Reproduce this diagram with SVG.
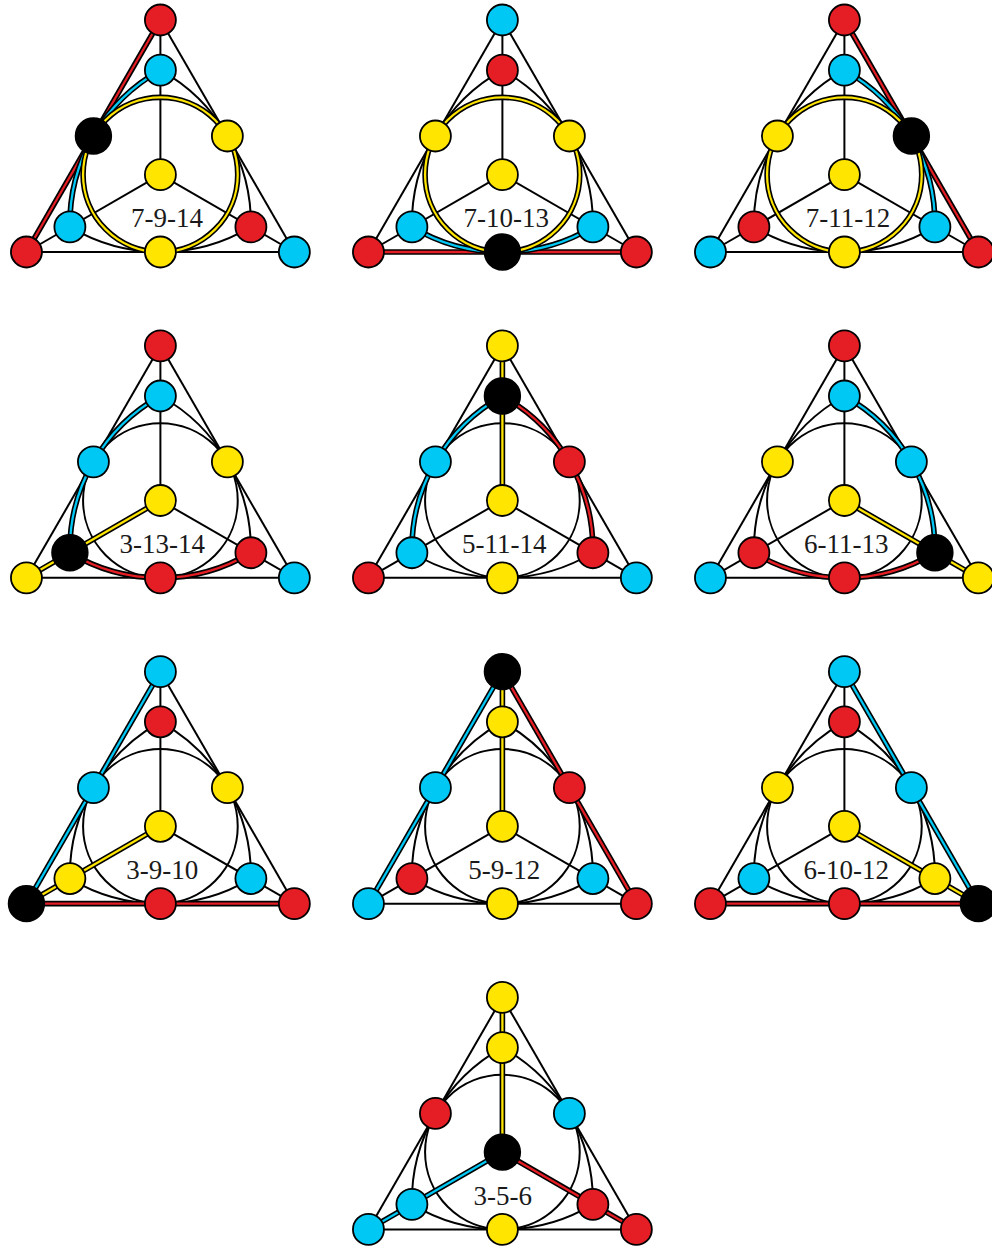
<svg xmlns="http://www.w3.org/2000/svg" xmlns:xlink="http://www.w3.org/1999/xlink" width="992" height="1247" viewBox="0 0 992 1247">
<style>
.ln{fill:none;stroke:#000;stroke-width:2}
.hk{fill:none;stroke:#000;stroke-width:5.6}
.hr{fill:none;stroke:#E41E24;stroke-width:2.3}
.hc{fill:none;stroke:#00C8F5;stroke-width:2.3}
.hy{fill:none;stroke:#FFE500;stroke-width:2.3}
.n{stroke:#000;stroke-width:1.8}
.R{fill:#E41E24}.C{fill:#00C8F5}.Y{fill:#FFE500}.K{fill:#000}
.lbl{font-family:"Liberation Serif","DejaVu Serif",serif;font-size:27px;fill:#1a1a1a;text-anchor:middle}
</style>
<defs>
<path id="eAB" d="M0,-154.67 L-133.95,77.33"/>
<path id="eAC" d="M0,-154.67 L133.95,77.33"/>
<path id="eBC" d="M-133.95,77.33 L133.95,77.33"/>
<path id="mA" d="M0,-154.67 L0,0"/>
<path id="mB" d="M-133.95,77.33 L0,0"/>
<path id="mC" d="M133.95,77.33 L0,0"/>
<circle id="circ" cx="0" cy="0" r="77.33"/>
<path id="cAB" d="M0,-104.5 A175.7,175.7 0 0 0 -90.5,52.25"/>
<path id="cAC" d="M0,-104.5 A175.7,175.7 0 0 1 90.5,52.25"/>
<path id="cBC" d="M-90.5,52.25 A175.7,175.7 0 0 0 90.5,52.25"/>
<g id="base">
<use xlink:href="#eAB"/><use xlink:href="#eAC"/><use xlink:href="#eBC"/>
<use xlink:href="#mA"/><use xlink:href="#mB"/><use xlink:href="#mC"/>
<use xlink:href="#circ"/>
<use xlink:href="#cAB"/><use xlink:href="#cAC"/><use xlink:href="#cBC"/>
</g>
</defs>

<g id="connectors">
<g transform="translate(160.4,174.67)">
<use xlink:href="#base" class="ln"/>
<use xlink:href="#eAB" class="hk"/><use xlink:href="#eAB" class="hr"/>
<use xlink:href="#cAB" class="hk"/><use xlink:href="#cAB" class="hc"/>
<use xlink:href="#circ" class="hk"/><use xlink:href="#circ" class="hy"/>
</g>
<g transform="translate(502.4,174.67)">
<use xlink:href="#base" class="ln"/>
<use xlink:href="#eBC" class="hk"/><use xlink:href="#eBC" class="hr"/>
<use xlink:href="#cBC" class="hk"/><use xlink:href="#cBC" class="hc"/>
<use xlink:href="#circ" class="hk"/><use xlink:href="#circ" class="hy"/>
</g>
<g transform="translate(844.4,174.67)">
<use xlink:href="#base" class="ln"/>
<use xlink:href="#eAC" class="hk"/><use xlink:href="#eAC" class="hr"/>
<use xlink:href="#cAC" class="hk"/><use xlink:href="#cAC" class="hc"/>
<use xlink:href="#circ" class="hk"/><use xlink:href="#circ" class="hy"/>
</g>
<g transform="translate(160.4,500.5)">
<use xlink:href="#base" class="ln"/>
<use xlink:href="#cAB" class="hk"/><use xlink:href="#cAB" class="hc"/>
<use xlink:href="#mB" class="hk"/><use xlink:href="#mB" class="hy"/>
<use xlink:href="#cBC" class="hk"/><use xlink:href="#cBC" class="hr"/>
</g>
<g transform="translate(502.4,500.5)">
<use xlink:href="#base" class="ln"/>
<use xlink:href="#mA" class="hk"/><use xlink:href="#mA" class="hy"/>
<use xlink:href="#cAB" class="hk"/><use xlink:href="#cAB" class="hc"/>
<use xlink:href="#cAC" class="hk"/><use xlink:href="#cAC" class="hr"/>
</g>
<g transform="translate(844.4,500.5)">
<use xlink:href="#base" class="ln"/>
<use xlink:href="#cAC" class="hk"/><use xlink:href="#cAC" class="hc"/>
<use xlink:href="#mC" class="hk"/><use xlink:href="#mC" class="hy"/>
<use xlink:href="#cBC" class="hk"/><use xlink:href="#cBC" class="hr"/>
</g>
<g transform="translate(160.4,826.3)">
<use xlink:href="#base" class="ln"/>
<use xlink:href="#eAB" class="hk"/><use xlink:href="#eAB" class="hc"/>
<use xlink:href="#mB" class="hk"/><use xlink:href="#mB" class="hy"/>
<use xlink:href="#eBC" class="hk"/><use xlink:href="#eBC" class="hr"/>
</g>
<g transform="translate(502.4,826.3)">
<use xlink:href="#base" class="ln"/>
<use xlink:href="#eAB" class="hk"/><use xlink:href="#eAB" class="hc"/>
<use xlink:href="#mA" class="hk"/><use xlink:href="#mA" class="hy"/>
<use xlink:href="#eAC" class="hk"/><use xlink:href="#eAC" class="hr"/>
</g>
<g transform="translate(844.4,826.3)">
<use xlink:href="#base" class="ln"/>
<use xlink:href="#eAC" class="hk"/><use xlink:href="#eAC" class="hc"/>
<use xlink:href="#mC" class="hk"/><use xlink:href="#mC" class="hy"/>
<use xlink:href="#eBC" class="hk"/><use xlink:href="#eBC" class="hr"/>
</g>
<g transform="translate(502.4,1152.1)">
<use xlink:href="#base" class="ln"/>
<use xlink:href="#mA" class="hk"/><use xlink:href="#mA" class="hy"/>
<use xlink:href="#mB" class="hk"/><use xlink:href="#mB" class="hc"/>
<use xlink:href="#mC" class="hk"/><use xlink:href="#mC" class="hr"/>
</g>
</g>

<g id="panel0" transform="translate(160.4,174.67)">
<g id="p0-A"><circle class="n R" cx="0" cy="-154.67" r="15.5"/></g>
<g id="p0-a"><circle class="n C" cx="0" cy="-104.5" r="15.5"/></g>
<g id="p0-Mab"><circle class="n K" cx="-66.98" cy="-38.67" r="17.8"/></g>
<g id="p0-Mac"><circle class="n Y" cx="66.98" cy="-38.67" r="15.5"/></g>
<g id="p0-G"><circle class="n Y" cx="0" cy="0" r="15.5"/></g>
<g id="p0-b"><circle class="n C" cx="-90.5" cy="52.25" r="15.5"/></g>
<g id="p0-c"><circle class="n R" cx="90.5" cy="52.25" r="15.5"/></g>
<g id="p0-B"><circle class="n R" cx="-133.95" cy="77.33" r="15.5"/></g>
<g id="p0-Mbc"><circle class="n Y" cx="0" cy="77.33" r="15.5"/></g>
<g id="p0-C"><circle class="n C" cx="133.95" cy="77.33" r="15.5"/></g>
</g>
<g id="panel1" transform="translate(502.4,174.67)">
<g id="p1-A"><circle class="n C" cx="0" cy="-154.67" r="15.5"/></g>
<g id="p1-a"><circle class="n R" cx="0" cy="-104.5" r="15.5"/></g>
<g id="p1-Mab"><circle class="n Y" cx="-66.98" cy="-38.67" r="15.5"/></g>
<g id="p1-Mac"><circle class="n Y" cx="66.98" cy="-38.67" r="15.5"/></g>
<g id="p1-G"><circle class="n Y" cx="0" cy="0" r="15.5"/></g>
<g id="p1-b"><circle class="n C" cx="-90.5" cy="52.25" r="15.5"/></g>
<g id="p1-c"><circle class="n C" cx="90.5" cy="52.25" r="15.5"/></g>
<g id="p1-B"><circle class="n R" cx="-133.95" cy="77.33" r="15.5"/></g>
<g id="p1-Mbc"><circle class="n K" cx="0" cy="77.33" r="17.8"/></g>
<g id="p1-C"><circle class="n R" cx="133.95" cy="77.33" r="15.5"/></g>
</g>
<g id="panel2" transform="translate(844.4,174.67)">
<g id="p2-A"><circle class="n R" cx="0" cy="-154.67" r="15.5"/></g>
<g id="p2-a"><circle class="n C" cx="0" cy="-104.5" r="15.5"/></g>
<g id="p2-Mab"><circle class="n Y" cx="-66.98" cy="-38.67" r="15.5"/></g>
<g id="p2-Mac"><circle class="n K" cx="66.98" cy="-38.67" r="17.8"/></g>
<g id="p2-G"><circle class="n Y" cx="0" cy="0" r="15.5"/></g>
<g id="p2-b"><circle class="n R" cx="-90.5" cy="52.25" r="15.5"/></g>
<g id="p2-c"><circle class="n C" cx="90.5" cy="52.25" r="15.5"/></g>
<g id="p2-B"><circle class="n C" cx="-133.95" cy="77.33" r="15.5"/></g>
<g id="p2-Mbc"><circle class="n Y" cx="0" cy="77.33" r="15.5"/></g>
<g id="p2-C"><circle class="n R" cx="133.95" cy="77.33" r="15.5"/></g>
</g>
<g id="panel3" transform="translate(160.4,500.5)">
<g id="p3-A"><circle class="n R" cx="0" cy="-154.67" r="15.5"/></g>
<g id="p3-a"><circle class="n C" cx="0" cy="-104.5" r="15.5"/></g>
<g id="p3-Mab"><circle class="n C" cx="-66.98" cy="-38.67" r="15.5"/></g>
<g id="p3-Mac"><circle class="n Y" cx="66.98" cy="-38.67" r="15.5"/></g>
<g id="p3-G"><circle class="n Y" cx="0" cy="0" r="15.5"/></g>
<g id="p3-b"><circle class="n K" cx="-90.5" cy="52.25" r="17.8"/></g>
<g id="p3-c"><circle class="n R" cx="90.5" cy="52.25" r="15.5"/></g>
<g id="p3-B"><circle class="n Y" cx="-133.95" cy="77.33" r="15.5"/></g>
<g id="p3-Mbc"><circle class="n R" cx="0" cy="77.33" r="15.5"/></g>
<g id="p3-C"><circle class="n C" cx="133.95" cy="77.33" r="15.5"/></g>
</g>
<g id="panel4" transform="translate(502.4,500.5)">
<g id="p4-A"><circle class="n Y" cx="0" cy="-154.67" r="15.5"/></g>
<g id="p4-a"><circle class="n K" cx="0" cy="-104.5" r="17.8"/></g>
<g id="p4-Mab"><circle class="n C" cx="-66.98" cy="-38.67" r="15.5"/></g>
<g id="p4-Mac"><circle class="n R" cx="66.98" cy="-38.67" r="15.5"/></g>
<g id="p4-G"><circle class="n Y" cx="0" cy="0" r="15.5"/></g>
<g id="p4-b"><circle class="n C" cx="-90.5" cy="52.25" r="15.5"/></g>
<g id="p4-c"><circle class="n R" cx="90.5" cy="52.25" r="15.5"/></g>
<g id="p4-B"><circle class="n R" cx="-133.95" cy="77.33" r="15.5"/></g>
<g id="p4-Mbc"><circle class="n Y" cx="0" cy="77.33" r="15.5"/></g>
<g id="p4-C"><circle class="n C" cx="133.95" cy="77.33" r="15.5"/></g>
</g>
<g id="panel5" transform="translate(844.4,500.5)">
<g id="p5-A"><circle class="n R" cx="0" cy="-154.67" r="15.5"/></g>
<g id="p5-a"><circle class="n C" cx="0" cy="-104.5" r="15.5"/></g>
<g id="p5-Mab"><circle class="n Y" cx="-66.98" cy="-38.67" r="15.5"/></g>
<g id="p5-Mac"><circle class="n C" cx="66.98" cy="-38.67" r="15.5"/></g>
<g id="p5-G"><circle class="n Y" cx="0" cy="0" r="15.5"/></g>
<g id="p5-b"><circle class="n R" cx="-90.5" cy="52.25" r="15.5"/></g>
<g id="p5-c"><circle class="n K" cx="90.5" cy="52.25" r="17.8"/></g>
<g id="p5-B"><circle class="n C" cx="-133.95" cy="77.33" r="15.5"/></g>
<g id="p5-Mbc"><circle class="n R" cx="0" cy="77.33" r="15.5"/></g>
<g id="p5-C"><circle class="n Y" cx="133.95" cy="77.33" r="15.5"/></g>
</g>
<g id="panel6" transform="translate(160.4,826.3)">
<g id="p6-A"><circle class="n C" cx="0" cy="-154.67" r="15.5"/></g>
<g id="p6-a"><circle class="n R" cx="0" cy="-104.5" r="15.5"/></g>
<g id="p6-Mab"><circle class="n C" cx="-66.98" cy="-38.67" r="15.5"/></g>
<g id="p6-Mac"><circle class="n Y" cx="66.98" cy="-38.67" r="15.5"/></g>
<g id="p6-G"><circle class="n Y" cx="0" cy="0" r="15.5"/></g>
<g id="p6-b"><circle class="n Y" cx="-90.5" cy="52.25" r="15.5"/></g>
<g id="p6-c"><circle class="n C" cx="90.5" cy="52.25" r="15.5"/></g>
<g id="p6-B"><circle class="n K" cx="-133.95" cy="77.33" r="17.8"/></g>
<g id="p6-Mbc"><circle class="n R" cx="0" cy="77.33" r="15.5"/></g>
<g id="p6-C"><circle class="n R" cx="133.95" cy="77.33" r="15.5"/></g>
</g>
<g id="panel7" transform="translate(502.4,826.3)">
<g id="p7-A"><circle class="n K" cx="0" cy="-154.67" r="17.8"/></g>
<g id="p7-a"><circle class="n Y" cx="0" cy="-104.5" r="15.5"/></g>
<g id="p7-Mab"><circle class="n C" cx="-66.98" cy="-38.67" r="15.5"/></g>
<g id="p7-Mac"><circle class="n R" cx="66.98" cy="-38.67" r="15.5"/></g>
<g id="p7-G"><circle class="n Y" cx="0" cy="0" r="15.5"/></g>
<g id="p7-b"><circle class="n R" cx="-90.5" cy="52.25" r="15.5"/></g>
<g id="p7-c"><circle class="n C" cx="90.5" cy="52.25" r="15.5"/></g>
<g id="p7-B"><circle class="n C" cx="-133.95" cy="77.33" r="15.5"/></g>
<g id="p7-Mbc"><circle class="n Y" cx="0" cy="77.33" r="15.5"/></g>
<g id="p7-C"><circle class="n R" cx="133.95" cy="77.33" r="15.5"/></g>
</g>
<g id="panel8" transform="translate(844.4,826.3)">
<g id="p8-A"><circle class="n C" cx="0" cy="-154.67" r="15.5"/></g>
<g id="p8-a"><circle class="n R" cx="0" cy="-104.5" r="15.5"/></g>
<g id="p8-Mab"><circle class="n Y" cx="-66.98" cy="-38.67" r="15.5"/></g>
<g id="p8-Mac"><circle class="n C" cx="66.98" cy="-38.67" r="15.5"/></g>
<g id="p8-G"><circle class="n Y" cx="0" cy="0" r="15.5"/></g>
<g id="p8-b"><circle class="n C" cx="-90.5" cy="52.25" r="15.5"/></g>
<g id="p8-c"><circle class="n Y" cx="90.5" cy="52.25" r="15.5"/></g>
<g id="p8-B"><circle class="n R" cx="-133.95" cy="77.33" r="15.5"/></g>
<g id="p8-Mbc"><circle class="n R" cx="0" cy="77.33" r="15.5"/></g>
<g id="p8-C"><circle class="n K" cx="133.95" cy="77.33" r="17.8"/></g>
</g>
<g id="panel9" transform="translate(502.4,1152.1)">
<g id="p9-A"><circle class="n Y" cx="0" cy="-154.67" r="15.5"/></g>
<g id="p9-a"><circle class="n Y" cx="0" cy="-104.5" r="15.5"/></g>
<g id="p9-Mab"><circle class="n R" cx="-66.98" cy="-38.67" r="15.5"/></g>
<g id="p9-Mac"><circle class="n C" cx="66.98" cy="-38.67" r="15.5"/></g>
<g id="p9-G"><circle class="n K" cx="0" cy="0" r="17.8"/></g>
<g id="p9-b"><circle class="n C" cx="-90.5" cy="52.25" r="15.5"/></g>
<g id="p9-c"><circle class="n R" cx="90.5" cy="52.25" r="15.5"/></g>
<g id="p9-B"><circle class="n C" cx="-133.95" cy="77.33" r="15.5"/></g>
<g id="p9-Mbc"><circle class="n Y" cx="0" cy="77.33" r="15.5"/></g>
<g id="p9-C"><circle class="n R" cx="133.95" cy="77.33" r="15.5"/></g>
</g>

<g id="labels">
<text class="lbl" x="167" y="227.3">7-9-14</text>
<text class="lbl" x="506.3" y="227.3">7-10-13</text>
<text class="lbl" x="848" y="227.3">7-11-12</text>
<text class="lbl" x="162.3" y="553.1">3-13-14</text>
<text class="lbl" x="504.2" y="553.1">5-11-14</text>
<text class="lbl" x="846.2" y="553.1">6-11-13</text>
<text class="lbl" x="162.2" y="878.9">3-9-10</text>
<text class="lbl" x="504.3" y="878.9">5-9-12</text>
<text class="lbl" x="846.2" y="878.9">6-10-12</text>
<text class="lbl" x="502.8" y="1204.5">3-5-6</text>
</g>
</svg>
